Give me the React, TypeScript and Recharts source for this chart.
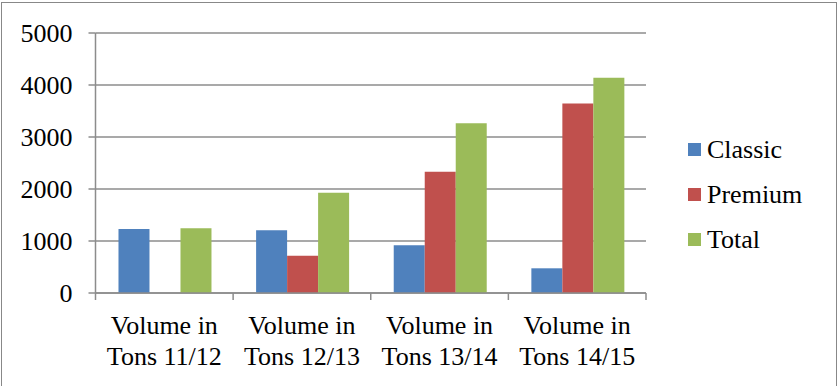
import React from "react";
import { BarChart, Bar, XAxis, YAxis, CartesianGrid, Legend } from "recharts";

const categories = ["Volume in Tons 11/12", "Volume in Tons 12/13", "Volume in Tons 13/14", "Volume in Tons 14/15"];
const classic = [1230, 1205, 920, 475];
const premium = [0, 715, 2330, 3645];
const total = [1245, 1930, 3265, 4140];
const yTicks = [0, 1000, 2000, 3000, 4000, 5000];

const seriesNames = ["Classic", "Premium", "Total"];
const seriesColors = ["#4F81BD", "#C0504D", "#9BBB59"];

const data = categories.map((c, i) => ({
  name: c,
  Classic: classic[i],
  Premium: premium[i] === 0 ? null : premium[i],
  Total: total[i],
}));

const FONT = "Times New Roman, Liberation Serif, DejaVu Serif, serif";
const GRID = "#8C8C8C";

const XTick = (props: any) => {
  const { x, y, payload, index } = props;
  const half = payload && payload.offset ? payload.offset : 68.75;
  const words = String(payload.value).split(" ");
  const line1 = words.slice(0, 2).join(" ");
  const line2 = words.slice(2).join(" ");
  const y0 = y - 8; // axis line y
  return (
    <g>
      <line x1={x - half} x2={x - half} y1={y0} y2={y0 + 7} stroke={GRID} strokeWidth={1.5} />
      {index === categories.length - 1 ? (
        <line x1={x + half} x2={x + half} y1={y0} y2={y0 + 7} stroke={GRID} strokeWidth={1.5} />
      ) : null}
      <text x={x} y={y0 + 41} textAnchor="middle" style={{ fontFamily: FONT }} fontSize={26} fill="#000">
        {line1}
      </text>
      <text x={x} y={y0 + 72} textAnchor="middle" style={{ fontFamily: FONT }} fontSize={26} fill="#000">
        {line2}
      </text>
    </g>
  );
};

const LegendContent = (props: any) => {
  const payload = props.payload || [];
  return (
    <div>
      {payload.map((p: any, i: number) => (
        <div key={i} style={{ height: 45, display: "flex", alignItems: "center" }}>
          <div style={{ width: 13, height: 13, background: p.color, marginRight: 6 }} />
          <span style={{ fontFamily: FONT, fontSize: 26, color: "#000", lineHeight: "26px" }}>{p.value}</span>
        </div>
      ))}
    </div>
  );
};

export default function App() {
  return (
    <div style={{ position: "absolute", left: 0, top: 0, width: 839, height: 386, background: "#fff", overflow: "hidden", fontFamily: FONT }}>
      <div
        style={{
          position: "absolute",
          left: 1,
          top: 2,
          width: 836,
          height: 400,
          border: "1.5px solid #888",
          boxSizing: "border-box",
        }}
      />
      <div style={{ position: "absolute", left: 0, top: 0 }}>
        <BarChart
          width={839}
          height={386}
          data={data}
          margin={{ top: 33, right: 193, bottom: 0, left: 0 }}
          barCategoryGap="16.7%"
          barGap={0}
          style={{ fontFamily: FONT }}
        >
          <CartesianGrid vertical={false} stroke={GRID} strokeWidth={1.5} />
          <XAxis
            dataKey="name"
            axisLine={{ stroke: GRID, strokeWidth: 1.5 }}
            tickLine={false}
            tick={<XTick />}
            interval={0}
            height={93}
          />
          <YAxis
            width={95.5}
            domain={[0, 5000]}
            ticks={yTicks}
            interval={0}
            axisLine={{ stroke: GRID, strokeWidth: 1.5 }}
            tickLine={{ stroke: GRID, strokeWidth: 1.5 }}
            tickSize={7}
            tickMargin={16}
            tick={{ style: { fontFamily: FONT }, fontSize: 26, fill: "#000" }}
          />
          <Legend
            layout="vertical"
            align="center"
            verticalAlign="middle"
            content={<LegendContent />}
            wrapperStyle={{ left: 688, top: 127, width: 150, right: "auto", bottom: "auto" }}
          />
          {seriesNames.map((s, i) => (
            <Bar key={s} dataKey={s} name={s} fill={seriesColors[i]} isAnimationActive={false} />
          ))}
        </BarChart>
      </div>
    </div>
  );
}
